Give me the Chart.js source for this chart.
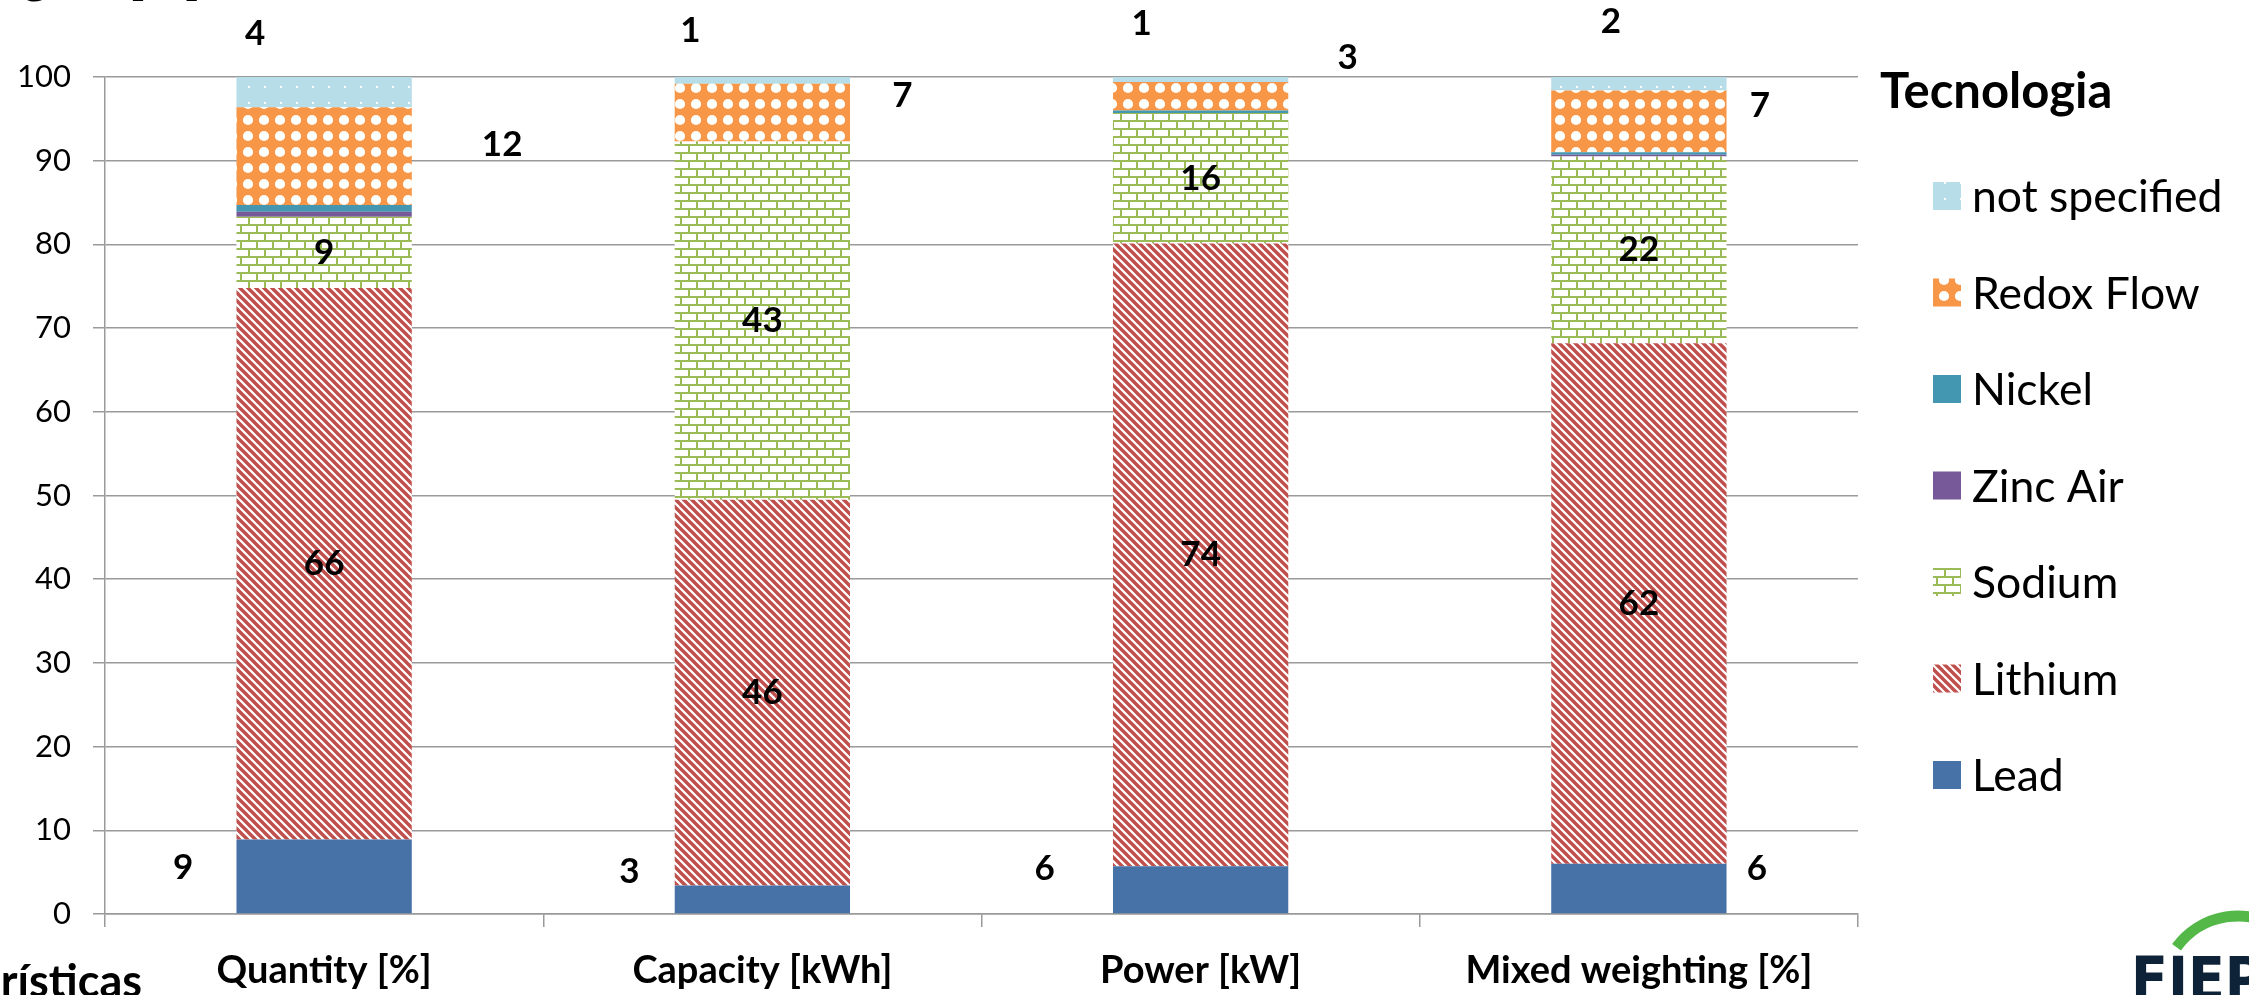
<!DOCTYPE html>
<html>
<head>
<meta charset="utf-8">
<script src="https://cdn.jsdelivr.net/npm/chart.js@4.4.1/dist/chart.umd.min.js"></script>
<style>
  html, body { margin: 0; padding: 0; background: #ffffff; }
  #wrap { width: 2249px; height: 995px; position: relative; }
</style>
</head>
<body>
<div id="wrap"><canvas id="myChart"></canvas></div>
<script>
// categories and series (percent share of each technology)
var categories = ['Quantity [%]', 'Capacity [kWh]', 'Power [kW]', 'Mixed weighting [%]'];
var lead         = [8.9, 3.4, 5.7, 6.0];
var lithium      = [65.9, 46.1, 74.4, 62.2];
var sodium       = [8.5, 42.8, 15.6, 22.3];
var zincAir      = [0.6, 0.0, 0.0, 0.2];
var nickel       = [0.8, 0.0, 0.3, 0.3];
var redoxFlow    = [11.7, 6.9, 3.4, 7.4];
var notSpecified = [3.6, 0.8, 0.6, 1.6];
var yTicks = [0, 10, 20, 30, 40, 50, 60, 70, 80, 90, 100];

var FONT = 'Lato, Carlito, "Open Sans", sans-serif';

function makePattern(w, h, draw) {
    var c = document.createElement('canvas');
    c.width = w;
    c.height = h;
    draw(c.getContext('2d'));
    return document.createElement('canvas').getContext('2d').createPattern(c, 'repeat');
}

// fills like the Excel pattern fills
var dotsBlue = makePattern(16, 16, function (g) {
    g.fillStyle = '#b7dee8';
    g.fillRect(0, 0, 16, 16);
    g.fillStyle = '#ffffff';
    g.fillRect(8, 6, 2, 2);
});
var orangeCircles = makePattern(16, 16, function (g) {
    g.fillStyle = '#f79646';
    g.fillRect(0, 0, 16, 16);
    g.fillStyle = '#ffffff';
    g.beginPath();
    g.arc(8, 8, 5.1, 0, Math.PI * 2);
    g.fill();
});
var greenBricks = makePattern(16, 16, function (g) {
    g.fillStyle = '#ffffff';
    g.fillRect(0, 0, 16, 16);
    g.fillStyle = '#9bbb59';
    g.fillRect(0, 0, 16, 2);
    g.fillRect(0, 8, 16, 2);
    g.fillRect(0, 0, 2, 8);
    g.fillRect(8, 8, 2, 8);
});
var redStripes = makePattern(8, 8, function (g) {
    g.fillStyle = '#ffffff';
    g.fillRect(0, 0, 8, 8);
    g.strokeStyle = '#c0504d';
    g.lineWidth = 3.4;
    for (var k = -2; k <= 2; k++) {
        g.beginPath();
        g.moveTo(k * 8 - 2, -2);
        g.lineTo(k * 8 + 10, 10);
        g.stroke();
    }
});

// label nudges in px (Excel labels were dragged by hand)
var labelShift = {
    'Lead': [[-141, -9], [-133, -28], [-156, -21], [118, -20]],
    'Redox Flow': [[178, -11], [140, -17], [147, -39], [121, -16]],
    'not specified': [[-69, -58], [-72, -50], [-59, -56], [-28, -62]]
};
var labelled = ['Lead', 'Lithium', 'Sodium', 'Redox Flow', 'not specified'];

var barLabels = {
    id: 'barLabels',
    afterDatasetsDraw: function (chart) {
        var ctx = chart.ctx;
        ctx.save();
        ctx.font = 'bold 35px ' + FONT;
        ctx.fillStyle = '#000000';
        ctx.textAlign = 'center';
        ctx.textBaseline = 'middle';
        chart.data.datasets.forEach(function (ds, di) {
            if (labelled.indexOf(ds.label) < 0) return;
            var meta = chart.getDatasetMeta(di);
            meta.data.forEach(function (bar, i) {
                var s = (labelShift[ds.label] || [])[i] || [0, 0];
                var cy = (bar.y + bar.base) / 2;
                ctx.fillText(String(Math.round(ds.data[i])), bar.x + s[0], cy + s[1]);
            });
        });
        ctx.restore();
    }
};

var sideLegend = {
    id: 'sideLegend',
    afterDraw: function (chart) {
        var ctx = chart.ctx;
        var right = chart.chartArea.right;
        ctx.save();
        ctx.fillStyle = '#000000';
        ctx.textAlign = 'left';
        ctx.textBaseline = 'alphabetic';
        ctx.font = 'bold 49px ' + FONT;
        ctx.fillText('Tecnologia', right + 22, 108);
        ctx.font = '44.5px ' + FONT;
        var items = chart.data.datasets.slice().reverse();
        items.forEach(function (ds, k) {
            var cy = 196 + k * 96.5;
            ctx.fillStyle = ds.backgroundColor;
            ctx.fillRect(right + 75, cy - 14, 28, 28);
            ctx.fillStyle = '#000000';
            ctx.fillText(ds.label, right + 114, cy + 16);
        });

        // clipped titles of the slide and the logo corner
        ctx.font = 'bold 50px ' + FONT;
        ctx.textAlign = 'right';
        ctx.fillText('Porcentagem [%]', 201, -7);
        ctx.font = 'bold 45px ' + FONT;
        ctx.fillText('Características', 142, 997);

        ctx.strokeStyle = '#53b848';
        ctx.lineWidth = 11;
        ctx.beginPath();
        ctx.arc(2238, 992, 76, Math.PI * 1.2, Math.PI * 1.8);
        ctx.stroke();
        ctx.fillStyle = '#0f2338';
        ctx.textAlign = 'left';
        ctx.font = 'bold 60px "DejaVu Sans Condensed", "Liberation Sans", sans-serif';
        ctx.fillText('FIEP', 2131, 1000);
        ctx.restore();
    }
};

var gridColor = '#9a9a9a';

var data = {
    labels: categories,
    datasets: [
        { label: 'Lead', data: lead, backgroundColor: '#4672a8' },
        { label: 'Lithium', data: lithium, backgroundColor: redStripes },
        { label: 'Sodium', data: sodium, backgroundColor: greenBricks },
        { label: 'Zinc Air', data: zincAir, backgroundColor: '#77599a' },
        { label: 'Nickel', data: nickel, backgroundColor: '#4397b0' },
        { label: 'Redox Flow', data: redoxFlow, backgroundColor: orangeCircles },
        { label: 'not specified', data: notSpecified, backgroundColor: dotsBlue }
    ]
};

var config = {
    type: 'bar',
    data: data,
    options: {
        responsive: true,
        maintainAspectRatio: false,
        animation: false,
        layout: { padding: { top: 77, right: 391, left: 0, bottom: 0 } },
        datasets: {
            bar: { categoryPercentage: 0.4, barPercentage: 1.0, borderWidth: 0 }
        },
        plugins: {
            legend: { display: false },
            tooltip: { enabled: false }
        },
        scales: {
            x: {
                stacked: true,
                afterFit: function (scale) { scale.height = 81; },
                grid: {
                    drawOnChartArea: false,
                    drawTicks: true,
                    tickLength: 13,
                    color: gridColor,
                    lineWidth: 1.5
                },
                border: { display: true, color: gridColor, width: 1.5 },
                ticks: {
                    color: '#000000',
                    padding: 21,
                    maxRotation: 0,
                    font: { family: FONT, size: 38, weight: 'bold' }
                }
            },
            y: {
                stacked: true,
                min: 0,
                max: 100,
                afterFit: function (scale) { scale.width = 105; },
                afterBuildTicks: function (scale) {
                    scale.ticks = yTicks.map(function (v) { return { value: v }; });
                },
                grid: {
                    drawTicks: true,
                    tickLength: 12,
                    color: gridColor,
                    lineWidth: 1.5
                },
                border: { display: true, color: gridColor, width: 1.5 },
                ticks: {
                    color: '#000000',
                    padding: 22,
                    font: { family: FONT, size: 31 }
                }
            }
        }
    },
    plugins: [barLabels, sideLegend]
};

var myChart = new Chart(document.getElementById('myChart'), config);
</script>
</body>
</html>
